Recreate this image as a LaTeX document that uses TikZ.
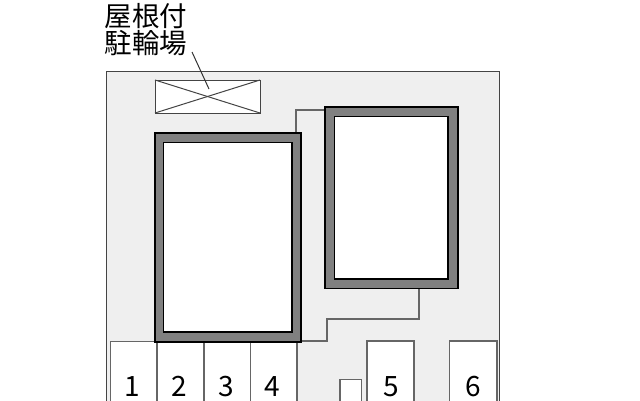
\documentclass[tikz,border=0pt]{standalone}
\usepackage{fontspec}
\setmainfont{Noto Sans CJK JP}
\definecolor{yard}{HTML}{EFEFEF}
\definecolor{wallgray}{HTML}{808080}
\definecolor{framegray}{HTML}{444444}
\definecolor{thingray}{HTML}{666666}
\tikzset{
  wall/.style={draw=black, line width=1.8pt, fill=wallgray},
  room/.style={draw=black, line width=1.8pt, fill=white},
  slot/.style={draw=thingray, line width=1.1pt, fill=white},
  thin line/.style={draw=thingray, line width=1.1pt},
  slotnum/.style={font=\fontsize{28}{28}\selectfont, inner sep=0pt, anchor=base}
}
\begin{document}
\begin{tikzpicture}[x=1pt,y=-1pt]
\useasboundingbox (0,0) rectangle (640,400);
\clip (0,0) rectangle (640,400);

\draw [framegray, line width=1pt, fill=yard] (106,410) -- (106,71.5) -- (499,71.5) -- (499,410);

% carport
\draw [framegray, line width=1pt, fill=white] (155,80) rectangle (260,113);
\draw [framegray, line width=1pt] (155,80) -- (260,113);
\draw [framegray, line width=1pt] (155,113) -- (260,80);
\node [inner sep=0pt, align=center, font=\fontsize{27.5}{27}\selectfont] (carport) at (146,30) {屋根付\\駐輪場};
\coordinate (leadtop) at (192,52);
\coordinate (leadend) at (209,89);
\draw [black!80, line width=1pt] (leadtop) -- (leadend);

% thin outlines
\draw [thin line] (296,132) -- (296,110) -- (324,110);
\draw [thin line] (419,289) -- (419,319) -- (327,319) -- (327,341) -- (302,341);

% parking
\draw [slot] (110.5,410) -- (110.5,341.5) -- (157,341.5) -- (157,410);
\draw [slot] (157,410) -- (157,341.5) -- (204,341.5) -- (204,410);
\draw [slot] (204,410) -- (204,341.5) -- (250.5,341.5) -- (250.5,410);
\draw [slot] (250.5,410) -- (250.5,341.5) -- (297,341.5) -- (297,410);
\draw [slot] (367,410) -- (367,341) -- (414,341) -- (414,410);
\draw [slot] (449.5,410) -- (449.5,341) -- (497,341) -- (497,410);
\draw [slot] (340,410) -- (340,379.5) -- (361.5,379.5) -- (361.5,410);

% buildings
\draw [wall] (155,133) rectangle (301,342);
\draw [room] (163.5,142.5) rectangle (292,332);
\draw [wall] (325,107) rectangle (458,288.5);
\draw [room] (334.5,116.5) rectangle (448,279);

\node [slotnum] (num1) at (132,396) {1};
\node [slotnum] (num2) at (179,396) {2};
\node [slotnum] (num3) at (226,396) {3};
\node [slotnum] (num4) at (272,396) {4};
\node [slotnum] (num5) at (391,396) {5};
\node [slotnum] (num6) at (473,396) {6};
\end{tikzpicture}
\end{document}
